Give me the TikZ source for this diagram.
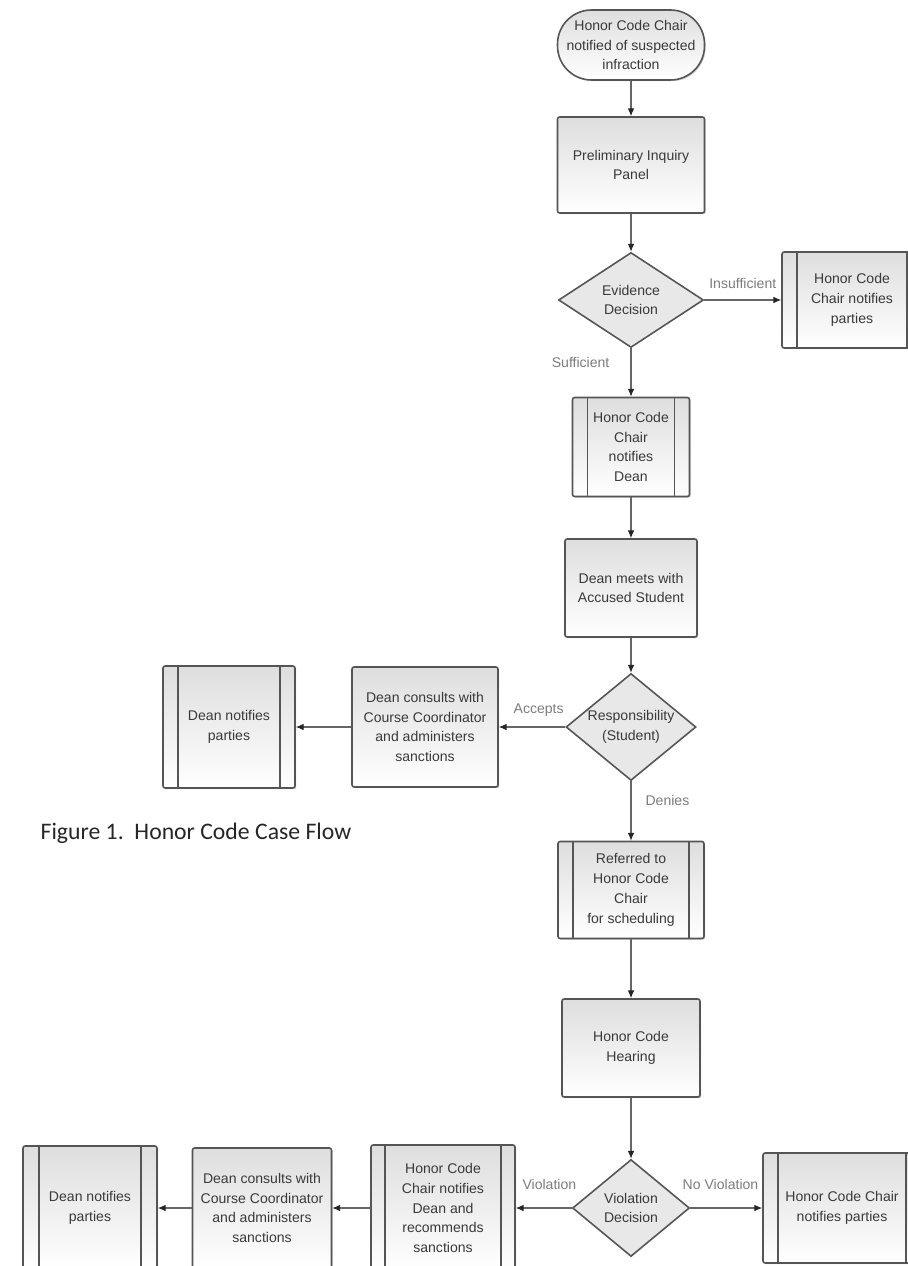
\documentclass[tikz,border=0pt]{standalone}
\usepackage{fontspec}
\setmainfont{Liberation Sans}
\newfontfamily\capfont{Carlito}
\usetikzlibrary{shapes.geometric,arrows.meta,shadows}

\definecolor{edgegray}{HTML}{555555}
\definecolor{txtgray}{HTML}{3A3A3A}
\definecolor{lblgray}{HTML}{7C7C7C}

\tikzset{
  box/.style={draw=edgegray, line width=0.9pt, rounded corners=1.2pt,
    top color=black!13, bottom color=white, text=txtgray,
    font=\fontsize{8}{11.3}\selectfont, align=center, inner sep=0pt,
    drop shadow={shadow xshift=0.7pt, shadow yshift=-0.7pt, opacity=0.4}},
  procbox/.style={box, path picture={
    \draw[edgegray, line width=0.8pt]
      ([xshift=#1]path picture bounding box.north west) -- ([xshift=#1]path picture bounding box.south west)
      ([xshift=-#1]path picture bounding box.north east) -- ([xshift=-#1]path picture bounding box.south east);}},
  procbox/.default=0.3cm,
  termbox/.style={box, rounded corners=0.68cm},
  decision/.style={diamond, aspect=1.22, draw=edgegray, line width=0.9pt,
    fill=black!9, text=txtgray, font=\fontsize{8}{11.3}\selectfont,
    align=center, inner sep=0pt},
  arr/.style={draw=black!60, line width=0.6pt,
    -{Latex[length=4.5pt,width=3.8pt,color=black!85]}},
  lbl/.style={text=lblgray, font=\fontsize{8}{10}\selectfont, inner sep=0pt}
}

\begin{document}
\begin{tikzpicture}[x=0.02cm, y=-0.02cm]
\useasboundingbox (0,0) rectangle (908,1266);

% main column
\node (start) [termbox, minimum width=2.94cm, minimum height=1.4cm] at (631,45)
  {Honor Code Chair\\notified of suspected\\infraction};
\node (pip) [box, minimum width=2.94cm, minimum height=1.92cm] at (631,165)
  {Preliminary Inquiry\\Panel};
\node (ed) [decision, minimum width=2.9cm, minimum height=1.9cm] at (631,300)
  {Evidence\\Decision};
\node (hcp1) [procbox, minimum width=2.8cm, minimum height=1.92cm] at (852,300)
  {Honor Code\\Chair notifies\\parties};
\node (hcd) [procbox, minimum width=2.34cm, minimum height=1.98cm] at (631,447)
  {Honor Code\\Chair\\notifies\\Dean};
\node (dm) [box, minimum width=2.64cm, minimum height=1.96cm] at (631,588)
  {Dean meets with\\Accused Student};
\node (rs) [decision, minimum width=2.6cm, minimum height=2.14cm] at (631,727)
  {Responsibility\\(Student)};
\node (dc1) [box, minimum width=2.92cm, minimum height=2.4cm] at (425,727)
  {Dean consults with\\Course Coordinator\\and administers\\sanctions};
\node (dn1) [procbox, minimum width=2.64cm, minimum height=2.44cm] at (229,727)
  {Dean notifies\\parties};
\node (ref) [procbox, minimum width=2.92cm, minimum height=1.94cm] at (631,890)
  {Referred to\\Honor Code\\Chair\\for scheduling};
\node (hear) [box, minimum width=2.76cm, minimum height=1.96cm] at (631,1048)
  {Honor Code\\Hearing};
\node (vd) [decision, minimum width=2.34cm, minimum height=1.94cm] at (631,1208)
  {Violation\\Decision};

% bottom row
\node (hcp2) [procbox, minimum width=3.16cm, minimum height=2.2cm] at (842,1208)
  {Honor Code Chair\\notifies parties};
\node (hcr) [procbox=0.28cm, minimum width=2.88cm, minimum height=2.52cm] at (443,1208)
  {Honor Code\\Chair notifies\\Dean and\\recommends\\sanctions};
\node (dc2) [box, minimum width=2.78cm, minimum height=2.4cm] at (262,1208)
  {Dean consults with\\Course Coordinator\\and administers\\sanctions};
\node (dn2) [procbox=0.32cm, minimum width=2.68cm, minimum height=2.48cm] at (90,1208)
  {Dean notifies\\parties};

\draw[arr] (start) -- (pip);
\draw[arr] (pip) -- (ed);
\draw[arr] (ed) -- node[lbl, above=6pt] {Insufficient} (hcp1);
\draw[arr] (ed) -- node[lbl, pos=0.3, left=12pt] {Sufficient} (hcd);
\draw[arr] (hcd) -- (dm);
\draw[arr] (dm) -- (rs);
\draw[arr] (rs) -- node[lbl, pos=0.4, above=6pt] {Accepts} (dc1);
\draw[arr] (dc1) -- (dn1);
\draw[arr] (rs) -- node[lbl, pos=0.33, right=8pt] {Denies} (ref);
\draw[arr] (ref) -- (hear);
\draw[arr] (hear) -- (vd);
\draw[arr] (vd) -- node[lbl, pos=0.42, above=10pt] {No Violation} (hcp2);
\draw[arr] (vd) -- node[lbl, pos=0.4, above=10pt] {Violation} (hcr);
\draw[arr] (hcr) -- (dc2);
\draw[arr] (dc2) -- (dn2);

\node (cap) [text=black!85, font=\capfont\fontsize{13.5}{16}\selectfont] at (196,833)
  {Figure 1.\ \ Honor Code Case Flow};
\end{tikzpicture}
\end{document}
